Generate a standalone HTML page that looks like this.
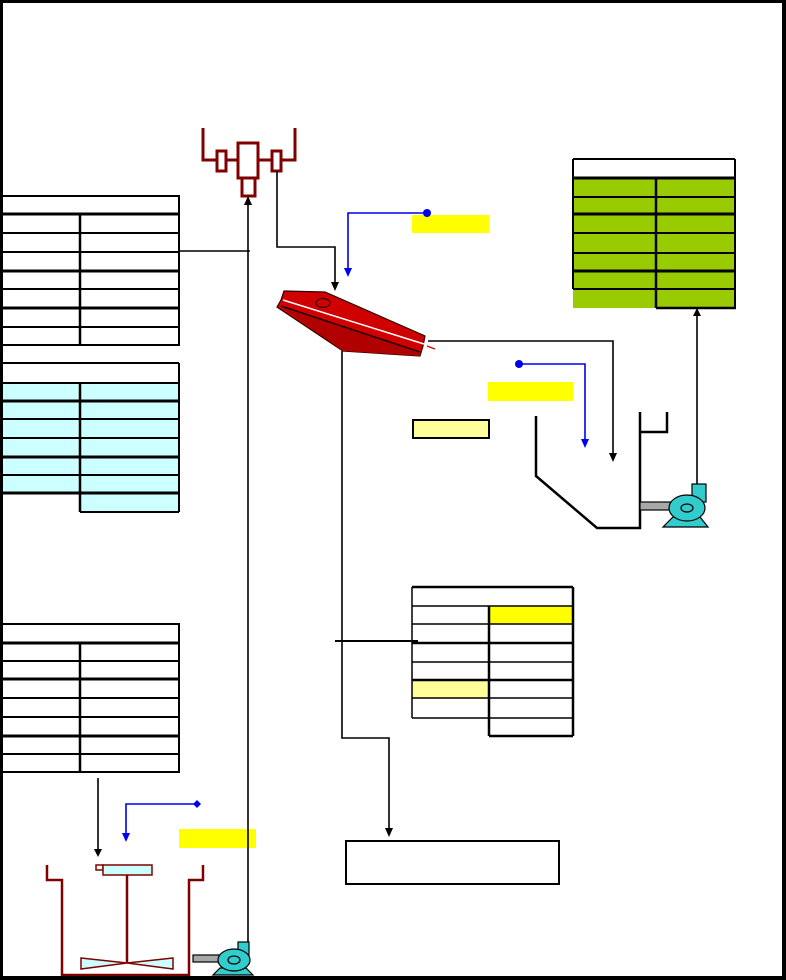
<!DOCTYPE html>
<html>
<head>
<meta charset="utf-8">
<style>
html,body{margin:0;padding:0;background:#fff;}
body{width:786px;height:980px;overflow:hidden;font-family:"Liberation Sans",sans-serif;}
svg{display:block;}
</style>
</head>
<body>
<svg width="786" height="980" viewBox="0 0 786 980" xmlns="http://www.w3.org/2000/svg">
<!-- frame -->
<rect x="0" y="0" width="786" height="980" fill="#000"/>
<rect x="3" y="3" width="779" height="973" fill="#fff"/>

<!-- ========== TABLE 1 (left top) ========== -->
<g stroke="#000" fill="none">
  <rect x="1" y="196" width="178" height="149" stroke-width="2"/>
  <line x1="0" y1="214" x2="179" y2="214" stroke-width="3"/>
  <line x1="0" y1="233" x2="179" y2="233" stroke-width="2"/>
  <line x1="0" y1="252" x2="179" y2="252" stroke-width="2"/>
  <line x1="0" y1="271" x2="179" y2="271" stroke-width="3"/>
  <line x1="0" y1="289" x2="179" y2="289" stroke-width="2"/>
  <line x1="0" y1="308" x2="179" y2="308" stroke-width="3"/>
  <line x1="0" y1="327" x2="179" y2="327" stroke-width="2"/>
  <line x1="80" y1="214" x2="80" y2="345" stroke-width="2.5"/>
  <line x1="179" y1="251" x2="250" y2="251" stroke-width="1.5"/>
</g>

<!-- ========== TABLE 2 (cyan) ========== -->
<rect x="3" y="383" width="176" height="110" fill="#CCFFFF"/>
<rect x="80" y="493" width="99" height="19" fill="#CCFFFF"/>
<g stroke="#000" fill="none">
  <line x1="0" y1="363" x2="179" y2="363" stroke-width="2"/>
  <line x1="179" y1="363" x2="179" y2="512" stroke-width="2"/>
  <line x1="0" y1="383" x2="179" y2="383" stroke-width="2"/>
  <line x1="0" y1="401" x2="179" y2="401" stroke-width="3"/>
  <line x1="0" y1="419" x2="179" y2="419" stroke-width="2"/>
  <line x1="0" y1="438" x2="179" y2="438" stroke-width="2"/>
  <line x1="0" y1="457" x2="179" y2="457" stroke-width="3"/>
  <line x1="0" y1="475" x2="179" y2="475" stroke-width="2"/>
  <line x1="0" y1="493" x2="179" y2="493" stroke-width="3"/>
  <line x1="80" y1="512" x2="179" y2="512" stroke-width="2"/>
  <line x1="80" y1="383" x2="80" y2="512" stroke-width="2.5"/>
</g>

<!-- ========== TABLE 3 (left bottom) ========== -->
<g stroke="#000" fill="none">
  <rect x="1" y="624" width="178" height="148" stroke-width="2"/>
  <line x1="0" y1="643" x2="179" y2="643" stroke-width="3"/>
  <line x1="0" y1="661" x2="179" y2="661" stroke-width="2"/>
  <line x1="0" y1="679" x2="179" y2="679" stroke-width="3"/>
  <line x1="0" y1="698" x2="179" y2="698" stroke-width="2"/>
  <line x1="0" y1="717" x2="179" y2="717" stroke-width="2"/>
  <line x1="0" y1="736" x2="179" y2="736" stroke-width="3"/>
  <line x1="0" y1="754" x2="179" y2="754" stroke-width="2"/>
  <line x1="80" y1="643" x2="80" y2="772" stroke-width="2.5"/>
</g>

<!-- ========== GREEN TABLE ========== -->
<rect x="573" y="178" width="162" height="130" fill="#99CC00"/>
<g stroke="#000" fill="none">
  <line x1="573" y1="159" x2="735" y2="159" stroke-width="2"/>
  <line x1="573" y1="159" x2="573" y2="289" stroke-width="2"/>
  <line x1="735" y1="159" x2="735" y2="308" stroke-width="2"/>
  <line x1="573" y1="178" x2="735" y2="178" stroke-width="3"/>
  <line x1="573" y1="197" x2="735" y2="197" stroke-width="2"/>
  <line x1="573" y1="214" x2="735" y2="214" stroke-width="3"/>
  <line x1="573" y1="233" x2="735" y2="233" stroke-width="2"/>
  <line x1="573" y1="253" x2="735" y2="253" stroke-width="2"/>
  <line x1="573" y1="271" x2="735" y2="271" stroke-width="3"/>
  <line x1="573" y1="289" x2="735" y2="289" stroke-width="2"/>
  <line x1="656" y1="178" x2="656" y2="308" stroke-width="2.5"/>
  <line x1="656" y1="308" x2="736" y2="308" stroke-width="2.5"/>
</g>

<!-- ========== MIDDLE TABLE ========== -->
<rect x="489" y="606" width="84" height="18" fill="#FFFF00"/>
<rect x="412" y="680" width="77" height="18" fill="#FFFF99"/>
<g stroke="#000" fill="none">
  <line x1="412" y1="587" x2="573" y2="587" stroke-width="2.5"/>
  <line x1="412" y1="587" x2="412" y2="718" stroke-width="1.5"/>
  <line x1="573" y1="587" x2="573" y2="736" stroke-width="2.5"/>
  <line x1="412" y1="606" x2="573" y2="606" stroke-width="1.5"/>
  <line x1="412" y1="624" x2="573" y2="624" stroke-width="1.5"/>
  <line x1="412" y1="643" x2="573" y2="643" stroke-width="2.5"/>
  <line x1="412" y1="662" x2="573" y2="662" stroke-width="1.5"/>
  <line x1="412" y1="680" x2="573" y2="680" stroke-width="2.5"/>
  <line x1="412" y1="698" x2="573" y2="698" stroke-width="1.5"/>
  <line x1="412" y1="718" x2="573" y2="718" stroke-width="1.5"/>
  <line x1="489" y1="736" x2="573" y2="736" stroke-width="2.5"/>
  <line x1="489" y1="606" x2="489" y2="736" stroke-width="2.5"/>
  <line x1="335" y1="641" x2="418" y2="641" stroke-width="2"/>
</g>

<!-- ========== YELLOW LABEL BOXES ========== -->
<rect x="412" y="215" width="77" height="18" fill="#FFFF00"/>
<rect x="488" y="382" width="85" height="19" fill="#FFFF00"/>
<rect x="179" y="829" width="77" height="19" fill="#FFFF00"/>
<rect x="413" y="420" width="76" height="18" fill="#FFFF99" stroke="#000" stroke-width="2"/>

<!-- bottom box -->
<rect x="346" y="841" width="213" height="43" fill="#fff" stroke="#000" stroke-width="2"/>

<!-- ========== HYDROCYCLONE ========== -->
<g stroke="#800000" stroke-width="3" fill="#fff">
  <polyline points="203,128 203,160 216,160" fill="none"/>
  <line x1="226" y1="160" x2="238" y2="160"/>
  <line x1="258" y1="160" x2="272" y2="160"/>
  <polyline points="282,160 295,160 295,128" fill="none"/>
  <rect x="217" y="151" width="9" height="20"/>
  <rect x="272" y="151" width="9" height="20"/>
  <rect x="238" y="143" width="20" height="35"/>
  <rect x="242" y="178" width="13" height="18"/>
</g>

<!-- ========== BLACK CONNECTORS ========== -->
<g stroke="#000" stroke-width="1.6" fill="none">
  <polyline points="277,171 277,247 335,247 335,283"/>
  <line x1="248" y1="944" x2="248" y2="204"/>
  <polyline points="428,341 613,341 613,453"/>
  <polyline points="342,351 342,738 389,738 389,828"/>
  <line x1="697" y1="484" x2="697" y2="316"/>
  <line x1="98" y1="778" x2="98" y2="849"/>
</g>
<g fill="#000">
  <polygon points="331,282 339,282 335,291"/>
  <polygon points="244,205 252,205 248,196"/>
  <polygon points="609,453 617,453 613,462"/>
  <polygon points="385,828 393,828 389,837"/>
  <polygon points="693,316 701,316 697,308"/>
  <polygon points="94,849 102,849 98,857"/>
</g>

<!-- ========== BLUE CONNECTORS ========== -->
<g stroke="#0000EE" stroke-width="1.6" fill="none">
  <polyline points="427,213 348,213 348,268"/>
  <polyline points="519,364 585,364 585,439"/>
  <polyline points="197,804 126,804 126,833"/>
</g>
<g fill="#0000EE">
  <circle cx="427" cy="213" r="4"/>
  <circle cx="519" cy="364" r="4"/>
  <polygon points="197,800 201,804 197,808 193,804"/>
  <polygon points="344,268 352,268 348,277"/>
  <polygon points="581,439 589,439 585,448"/>
  <polygon points="122,833 130,833 126,842"/>
</g>

<!-- ========== RED SCREEN ========== -->
<polygon points="284,291 325,292 425,336 423,346 420,356 343,351 277,307 281,300" fill="#D00000" stroke="#300000" stroke-width="1.2"/>
<polygon points="280,306 420,352 420,356 343,351" fill="#B00000" stroke="none"/>
<line x1="281" y1="306" x2="420" y2="352" stroke="#200000" stroke-width="1.5"/>
<line x1="283" y1="300" x2="424" y2="344" stroke="#fff" stroke-width="1.5"/>
<ellipse cx="323" cy="303" rx="7" ry="4.5" fill="#D00000" stroke="#300000" stroke-width="1.2"/>
<line x1="427" y1="346" x2="435" y2="349" stroke="#E00000" stroke-width="1.3"/>

<!-- ========== RIGHT SUMP ========== -->
<g stroke="#000" stroke-width="2.5" fill="none">
  <polyline points="536,416 536,476 597,528 640,528 640,412"/>
  <polyline points="640,432 667,432 667,412"/>
</g>

<!-- ========== RIGHT PUMP ========== -->
<g stroke="#000" stroke-width="1.2">
  <rect x="640" y="502" width="32" height="8" fill="#A8A8A8"/>
  <polygon points="673,517 700,517 708,527 663,527" fill="#33CCCC"/>
  <rect x="692" y="484" width="14" height="18" fill="#33CCCC"/>
  <ellipse cx="687" cy="508" rx="18" ry="13" fill="#33CCCC"/>
  <ellipse cx="687" cy="508" rx="6" ry="4" fill="none"/>
</g>

<!-- ========== BOTTOM TANK ========== -->
<g stroke="#800000" stroke-width="2.5" fill="none">
  <polyline points="47,865 47,880 62,880 62,975 189,975 189,880 203,880 203,865"/>
  <line x1="127" y1="875" x2="127" y2="963"/>
</g>
<g stroke="#800000" stroke-width="1.5">
  <rect x="96" y="865" width="7" height="5" fill="#fff"/>
  <rect x="103" y="865" width="49" height="10" fill="#CCFFFF"/>
  <polygon points="81,958 127,963 81,969" fill="#CCFFFF"/>
  <polygon points="173,958 127,963 173,969" fill="#CCFFFF"/>
</g>

<!-- ========== BOTTOM PUMP ========== -->
<g stroke="#000" stroke-width="1.2">
  <rect x="193" y="955" width="27" height="7" fill="#A8A8A8"/>
  <polygon points="220,968 246,968 253,975 213,975" fill="#33CCCC"/>
  <rect x="238" y="942" width="11" height="13" fill="#33CCCC"/>
  <ellipse cx="234" cy="960" rx="16" ry="11" fill="#33CCCC"/>
  <ellipse cx="234" cy="960" rx="6" ry="4" fill="none"/>
</g>

<!-- redraw bottom frame edge on top -->
<rect x="0" y="976" width="786" height="4" fill="#000"/>
</svg>
</body>
</html>
